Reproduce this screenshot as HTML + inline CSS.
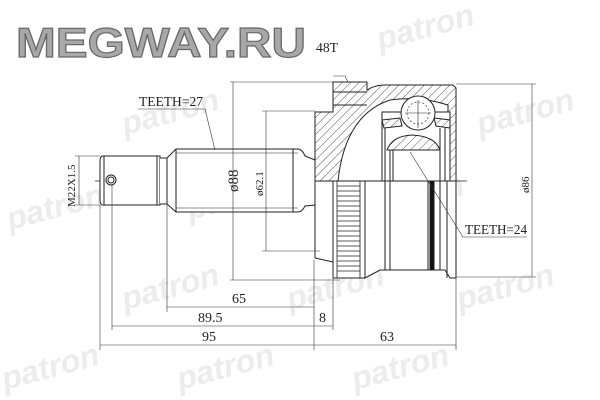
<!DOCTYPE html>
<html><head><meta charset="utf-8"><style>
html,body{margin:0;padding:0;background:#fff;}
svg{display:block;}
</style></head><body>
<svg width="600" height="400" viewBox="0 0 600 400" xmlns="http://www.w3.org/2000/svg">
<defs>
<pattern id="h" width="6" height="6" patternUnits="userSpaceOnUse" patternTransform="rotate(45)">
<rect width="6" height="6" fill="#fff"/><line x1="0" y1="0" x2="0" y2="6" stroke="#333" stroke-width="0.8"/>
</pattern>
</defs>
<rect width="600" height="400" fill="#fff"/>
<!-- watermarks -->
<g fill="#ececec" style="font-family:'Liberation Sans',sans-serif;font-weight:bold;font-style:italic;font-size:32px">
<text x="380" y="50" transform="rotate(-15 380 50)">patron</text>
<text x="125" y="135" transform="rotate(-15 125 135)">patron</text>
<text x="480" y="135" transform="rotate(-15 480 135)">patron</text>
<text x="190" y="220" transform="rotate(-15 190 220)">patron</text>
<text x="370" y="220" transform="rotate(-15 370 220)">patron</text>
<text x="10" y="230" transform="rotate(-15 10 230)">patron</text>
<text x="125" y="310" transform="rotate(-15 125 310)">patron</text>
<text x="290" y="310" transform="rotate(-15 290 310)">patron</text>
<text x="460" y="310" transform="rotate(-15 460 310)">patron</text>
<text x="5" y="390" transform="rotate(-15 5 390)">patron</text>
<text x="180" y="390" transform="rotate(-15 180 390)">patron</text>
<text x="355" y="390" transform="rotate(-15 355 390)">patron</text>
</g>
<text x="16" y="57" style="font-family:'Liberation Sans',sans-serif;font-weight:bold;font-size:42px" fill="#a8a8a8" stroke="#6a6a6a" stroke-width="1.2" textLength="290" lengthAdjust="spacingAndGlyphs">MEGWAY.RU</text>

<g stroke="#222" stroke-width="1" fill="none">
<line x1="95" y1="181" x2="470" y2="181" stroke-dasharray="12,3,2,3" stroke-width="0.7"/>
<path d="M103,156 H160 V205 H103 Q100,205 100,200 V161 Q100,156 103,156 Z" fill="#fff"/>
<line x1="104" y1="156" x2="104" y2="205"/>
<line x1="157" y1="156" x2="157" y2="205"/>
<circle cx="111" cy="180" r="5"/>
<circle cx="111" cy="180" r="3"/>
<path d="M160,158 H167 L176,149 H298 Q302,149 305,156 L315,160 V205 L305,206 Q302,212 298,212 H176 L167,204 H160" fill="#fff"/>
<line x1="167" y1="158" x2="167" y2="204"/>
<line x1="176" y1="149" x2="176" y2="212"/>
<line x1="176" y1="153" x2="298" y2="153" stroke-width="0.5"/>
<line x1="176" y1="208" x2="298" y2="208" stroke-width="0.5"/>
<line x1="293" y1="149" x2="293" y2="212"/>
<path d="M315,112 H333 V82 H367 V90 Q375,85 385,85 H453 L456,88 V181 H448 V105 Q420,96 390,100 Q345,115 338,181 H315 Z" fill="url(#h)"/>
<line x1="333" y1="92" x2="367" y2="92"/>
<line x1="333" y1="105" x2="367" y2="105"/>
<rect x="382" y="112" width="68" height="69" fill="#fff"/>
<path d="M382,112 H450" />
<path d="M387,150 Q392,136 412,135 Q435,136 440,150 Z" fill="url(#h)"/>
<path d="M382,120 L400,118 L402,126 L384,128 Z" fill="url(#h)"/>
<path d="M434,118 L450,120 L450,128 L436,126 Z" fill="url(#h)"/>
<circle cx="418" cy="113" r="17" fill="#fff"/>
<circle cx="418" cy="113" r="11" stroke-dasharray="2,2" stroke-width="0.6"/>
<line x1="418" y1="100" x2="418" y2="128" stroke-width="0.6"/>
<line x1="405" y1="113" x2="431" y2="113" stroke-width="0.6"/>
<line x1="385" y1="128" x2="385" y2="181"/>
<line x1="390" y1="150" x2="390" y2="181"/>
<line x1="393" y1="150" x2="393" y2="181"/>
<line x1="440" y1="128" x2="440" y2="181"/>
<line x1="445" y1="128" x2="445" y2="181"/>
<path d="M315,181 H333 V262 L315,258 Z" fill="#fff"/>
<rect x="333" y="181" width="32" height="97" fill="#fff"/>
<path d="M365,181 H456 V278 H450 L445,270 H380 L365,278 Z" fill="#fff"/>
<line x1="385" y1="181" x2="385" y2="270"/>
<line x1="390" y1="181" x2="390" y2="270"/>
<line x1="428" y1="181" x2="428" y2="270"/>
<rect x="430" y="181" width="4" height="89" fill="#111"/>
<line x1="440" y1="181" x2="440" y2="270"/>
<line x1="447" y1="181" x2="447" y2="278"/>
</g>
<g stroke="#222" stroke-width="0.8">
<line x1="337" y1="186" x2="360" y2="186"/><line x1="337" y1="191" x2="360" y2="191"/>
<line x1="337" y1="196" x2="360" y2="196"/><line x1="337" y1="201" x2="360" y2="201"/>
<line x1="337" y1="206" x2="360" y2="206"/><line x1="337" y1="211" x2="360" y2="211"/>
<line x1="337" y1="216" x2="360" y2="216"/><line x1="337" y1="221" x2="360" y2="221"/>
<line x1="337" y1="226" x2="360" y2="226"/><line x1="337" y1="231" x2="360" y2="231"/>
<line x1="337" y1="236" x2="360" y2="236"/><line x1="337" y1="241" x2="360" y2="241"/>
<line x1="337" y1="246" x2="360" y2="246"/><line x1="337" y1="251" x2="360" y2="251"/>
<line x1="337" y1="256" x2="360" y2="256"/><line x1="337" y1="261" x2="360" y2="261"/>
<line x1="337" y1="266" x2="360" y2="266"/><line x1="337" y1="271" x2="360" y2="271"/>
<line x1="337" y1="181" x2="337" y2="278"/><line x1="360" y1="181" x2="360" y2="278"/>
</g>
<g stroke="#333" stroke-width="0.6" fill="none">
<line x1="230" y1="82" x2="333" y2="82"/><line x1="230" y1="280" x2="340" y2="280"/>
<line x1="233" y1="82" x2="233" y2="280"/>
<line x1="262" y1="111" x2="315" y2="111"/><line x1="262" y1="251" x2="320" y2="251"/>
<line x1="266" y1="111" x2="266" y2="251"/>
<line x1="456" y1="84" x2="536" y2="84"/><line x1="456" y1="277" x2="536" y2="277"/>
<line x1="532" y1="84" x2="532" y2="277"/>
<line x1="75" y1="156" x2="100" y2="156"/><line x1="75" y1="205" x2="100" y2="205"/>
<line x1="79" y1="156" x2="79" y2="205"/>
<line x1="100" y1="205" x2="100" y2="350"/><line x1="112" y1="185" x2="112" y2="330"/>
<line x1="167" y1="205" x2="167" y2="312"/>
<line x1="314" y1="260" x2="314" y2="350"/><line x1="333" y1="278" x2="333" y2="330"/>
<line x1="456" y1="278" x2="456" y2="350"/>
<line x1="167" y1="307" x2="314" y2="307"/>
<line x1="112" y1="326" x2="333" y2="326"/>
<line x1="100" y1="345" x2="456" y2="345"/>
<polyline points="138,109 205,109 215,150"/>
<polyline points="333,76 345,76 348,82"/>
<polyline points="527,237 463,237 410,152"/>
</g>
<g fill="#222" style="font-family:'Liberation Serif',serif;font-size:14px">
<text x="139" y="106" textLength="64" lengthAdjust="spacingAndGlyphs">TEETH=27</text>
<text x="316" y="52" textLength="22" lengthAdjust="spacingAndGlyphs">48T</text>
<text x="465" y="234" textLength="62" lengthAdjust="spacingAndGlyphs">TEETH=24</text>
<text x="232" y="303">65</text>
<text x="198" y="322">89.5</text>
<text x="319" y="322">8</text>
<text x="202" y="341">95</text>
<text x="380" y="341">63</text>
<text transform="translate(238,192) rotate(-90)" style="font-size:15px">ø88</text>
<text transform="translate(263,196) rotate(-90)" style="font-size:11px">ø62.1</text>
<text transform="translate(529,193) rotate(-90)" style="font-size:11px">ø86</text>
<text transform="translate(75,207) rotate(-90)" style="font-size:11px">M22X1.5</text>
</g>
</svg>
</body></html>
